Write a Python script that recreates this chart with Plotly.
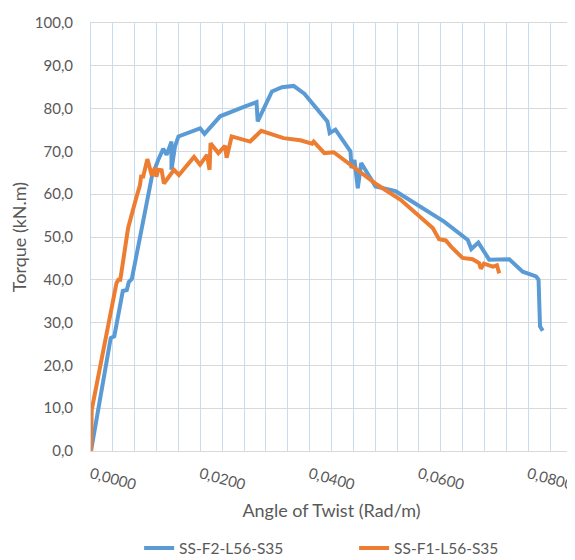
import plotly.graph_objects as go

# SS-F2-L56-S35 (blue)
f2_twist = [0.0, 0.00361, 0.00426, 0.00582, 0.00655, 0.00692, 0.00747, 0.01114, 0.01229,
            0.01321, 0.01384, 0.01472, 0.01472, 0.01536, 0.01600, 0.01995, 0.02077, 0.02362,
            0.02820, 0.03028, 0.03050, 0.03310, 0.03494, 0.03707, 0.03903, 0.04325, 0.04367,
            0.04472, 0.04747, 0.04766, 0.04820, 0.04881, 0.04943, 0.05206, 0.05481, 0.05573,
            0.06460, 0.06894, 0.06958, 0.07087, 0.07285, 0.07652, 0.07898, 0.08142, 0.08188,
            0.08215, 0.08265]
f2_torque = [0.0, 26.4, 26.8, 37.4, 37.6, 39.5, 40.2, 64.1, 68.0,
             70.6, 69.2, 72.3, 65.7, 71.1, 73.5, 75.4, 74.1, 78.2,
             80.5, 81.5, 77.0, 84.0, 85.0, 85.3, 83.5, 77.0, 74.3,
             75.1, 70.0, 66.1, 68.0, 61.4, 67.3, 61.8, 61.0, 60.7,
             53.6, 49.3, 47.2, 48.7, 44.7, 44.8, 41.9, 40.8, 40.0,
             29.1, 28.1]

# SS-F1-L56-S35 (orange)
f1_twist = [0.0, 0.00013, 0.00466, 0.00500, 0.00536, 0.00679, 0.00833, 0.00875, 0.00894,
            0.00921, 0.00949, 0.01031, 0.01114, 0.01169, 0.01196, 0.01229, 0.01292, 0.01334,
            0.01518, 0.01609, 0.01885, 0.01995, 0.02123, 0.02169, 0.02187, 0.02330, 0.02453,
            0.02481, 0.02573, 0.02912, 0.03114, 0.03523, 0.03830, 0.04044, 0.04074, 0.04270,
            0.04441, 0.05237, 0.05665, 0.06252, 0.06368, 0.06491, 0.06592, 0.06797, 0.06980,
            0.07101, 0.07133, 0.07188, 0.07353, 0.07426, 0.07469]
f1_torque = [0.0, 9.6, 39.2, 40.0, 40.0, 52.1, 59.4, 60.8, 62.0,
             64.5, 63.8, 68.2, 64.3, 66.2, 64.1, 65.7, 65.6, 62.5,
             65.7, 64.5, 68.7, 66.9, 69.2, 65.7, 71.9, 69.6, 71.3,
             68.5, 73.5, 72.3, 74.8, 73.1, 72.6, 71.8, 72.3, 69.6,
             69.8, 62.2, 58.7, 52.1, 49.5, 49.2, 47.7, 45.1, 44.8,
             43.9, 42.6, 43.8, 43.1, 43.4, 41.5]

series_names = ["SS-F2-L56-S35", "SS-F1-L56-S35"]
series_colors = ["#5B9BD5", "#ED7D31"]

FONT = "Lato, Open Sans, sans-serif"
TXT = "#595959"

fig = go.Figure()
fig.add_trace(go.Scatter(x=f2_twist, y=f2_torque, mode="lines", name=series_names[0],
                         line=dict(color=series_colors[0], width=4)))
fig.add_trace(go.Scatter(x=f1_twist, y=f1_torque, mode="lines", name=series_names[1],
                         line=dict(color=series_colors[1], width=4)))

# page body has an 8px margin, so the figure is sized 567x552
fig.update_layout(
    width=567, height=552,
    margin=dict(l=83, r=3, t=15, b=109, autoexpand=False),
    paper_bgcolor="white", plot_bgcolor="white",
    separators=",.",
    font=dict(family=FONT, color=TXT, size=14),
    showlegend=True,
    legend=dict(orientation="h", x=0.547, xanchor="center", y=-0.188, yanchor="top",
                font=dict(size=15.5, color=TXT), entrywidth=170, entrywidthmode="pixels",
                traceorder="normal"),
    xaxis=dict(
        range=[0, 0.088], tick0=0, dtick=0.02, tickformat=".4f", tickangle=15,
        automargin=False, ticklabeloverflow="allow",
        showgrid=True, gridcolor="#C5DCF0", gridwidth=1,
        minor=dict(dtick=0.004, tick0=0, showgrid=True, gridcolor="#C5DCF0", gridwidth=1),
        zeroline=False, showline=True, linecolor="#D9D9D9", linewidth=1, mirror=True,
        ticks="outside", ticklen=8, tickcolor="rgba(0,0,0,0)",
        tickfont=dict(size=15, color=TXT),
        title=dict(text="Angle of Twist (Rad/m)", font=dict(size=18, color=TXT), standoff=12),
    ),
    yaxis=dict(
        range=[0, 100], tick0=0, dtick=10, tickformat=".1f",
        automargin=False,
        showgrid=True, gridcolor="#D9D9D9", gridwidth=1,
        zeroline=False, showline=True, linecolor="#C5DCF0", linewidth=1, mirror=True,
        ticks="outside", ticklen=14, tickcolor="rgba(0,0,0,0)",
        tickfont=dict(size=15, color=TXT),
        title=dict(text="Torque (kN.m)", font=dict(size=18, color=TXT), standoff=5),
    ),
)

fig.write_html("out.html")
